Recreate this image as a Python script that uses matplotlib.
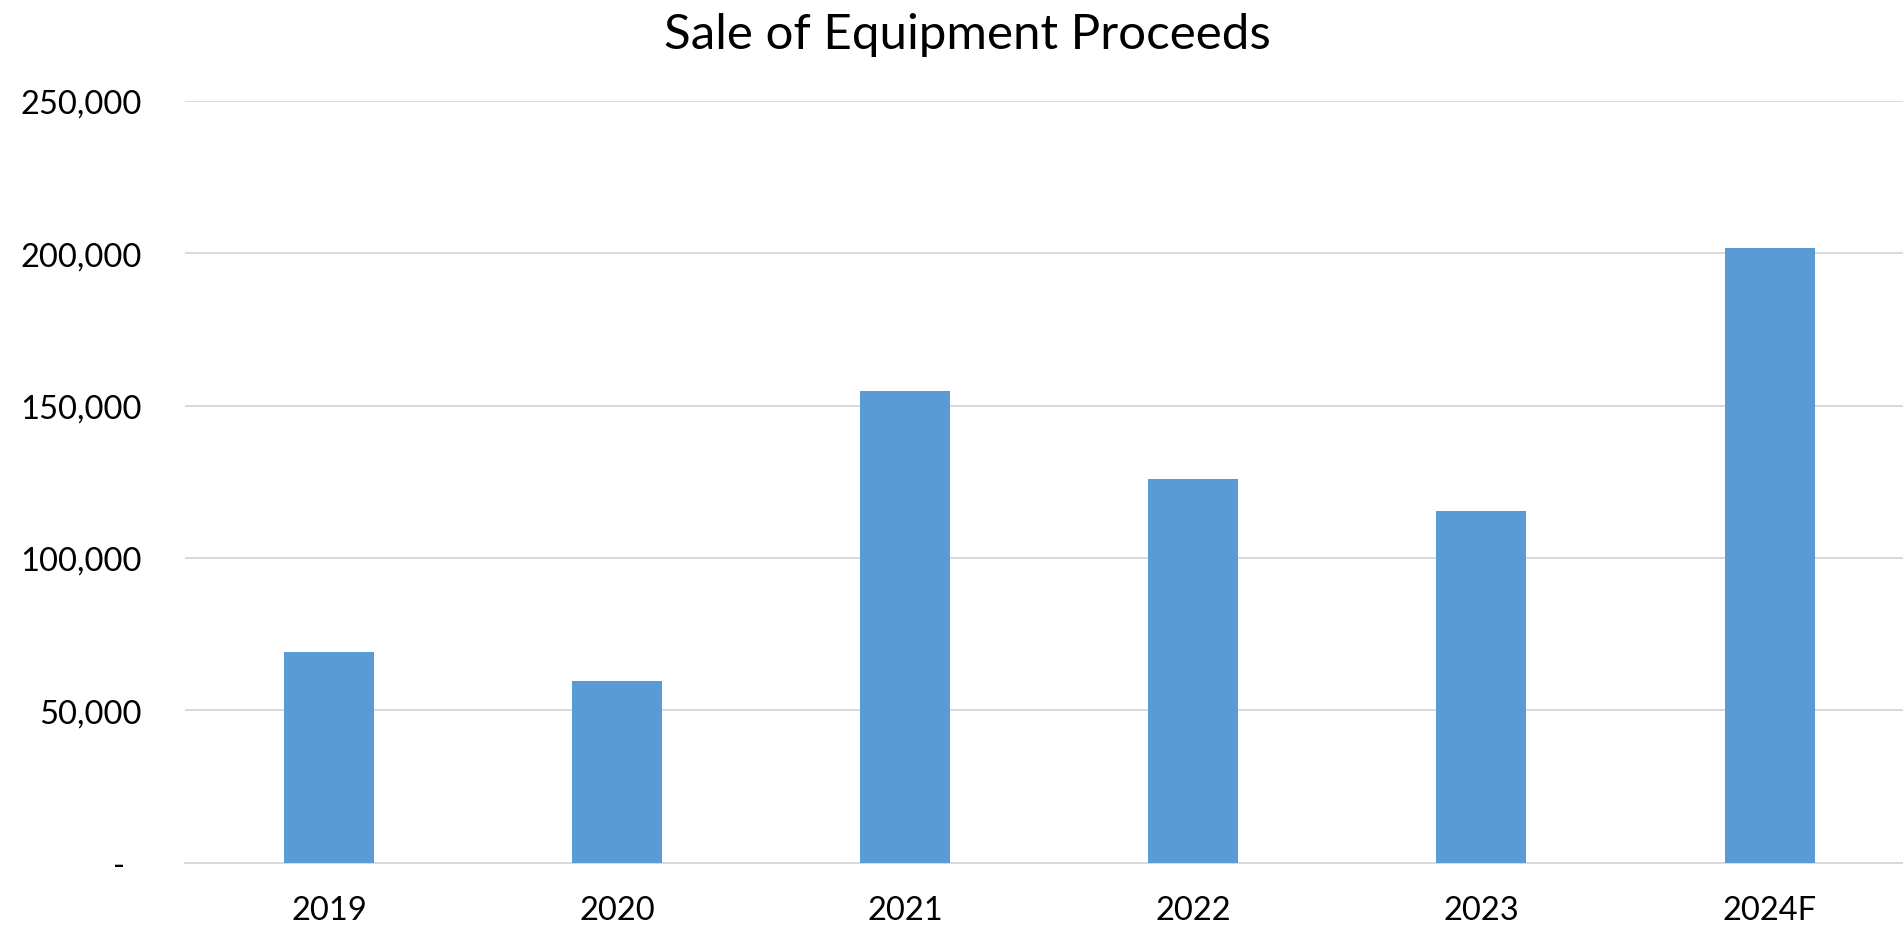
import matplotlib
matplotlib.use("Agg")
import matplotlib.pyplot as plt
from matplotlib.ticker import FixedLocator

# Sale of equipment proceeds by year (2024 is a forecast)
years = ["2019", "2020", "2021", "2022", "2023", "2024F"]
proceeds = [69000, 59800, 154800, 126000, 115500, 201700]

y_ticks = [0, 50000, 100000, 150000, 200000, 250000]
y_tick_labels = ["-  ", "50,000", "100,000", "150,000", "200,000", "250,000"]

BAR_COLOR = "#5B9BD5"
GRID_COLOR = "#D9D9D9"

plt.rcParams["font.family"] = ["Lato", "DejaVu Sans"]

W, H = 1903, 929
fig = plt.figure(figsize=(W / 100, H / 100), dpi=100)
fig.patch.set_facecolor("white")

left_px, right_px = 185, 1903
top_px, bottom_px = 102, 863.7
ax = fig.add_axes([left_px / W, 1 - bottom_px / H,
                   (right_px - left_px) / W, (bottom_px - top_px) / H])

x = list(range(len(years)))
ax.bar(x, proceeds, width=0.3125, color=BAR_COLOR, zorder=3)

slot_px = 288.1
ax.set_xlim(-0.5, -0.5 + (right_px - left_px) / slot_px)
ax.set_ylim(0, 250000)

ax.yaxis.set_major_locator(FixedLocator(y_ticks))
ax.set_yticklabels(y_tick_labels)
ax.set_xticks(x)
ax.set_xticklabels(years)

ax.grid(axis="y", color=GRID_COLOR, linewidth=1.4, zorder=0)
for side in ("top", "right", "left"):
    ax.spines[side].set_visible(False)
ax.spines["bottom"].set_color(GRID_COLOR)
ax.spines["bottom"].set_linewidth(1.4)
ax.spines["bottom"].set_zorder(2)

ax.tick_params(axis="both", length=0, labelsize=23.5, colors="black")
ax.tick_params(axis="y", pad=31)
ax.tick_params(axis="x", pad=23)

fig.text(967 / W, 1 - 35 / H, "Sale of Equipment Proceeds",
         ha="center", va="center", fontsize=35.5, color="black")

fig.savefig("out.png", dpi=100, facecolor="white")
